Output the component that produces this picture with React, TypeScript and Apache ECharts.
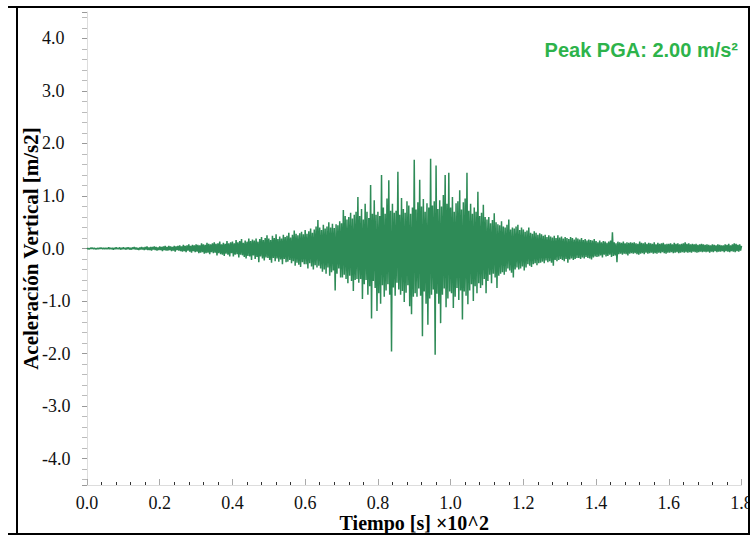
import { useEffect, useRef } from "react";
import * as echarts from "echarts";

// Sampling step of the record, in axis units (×10^2 s)
const DT = 0.0025;

// Vertical acceleration [m/s2]
const accel: number[] = [
  0.01, -0.01, 0.00, -0.01, 0.01, 0.00, 0.01, -0.01, 0.01, -0.01, 0.00, -0.01, 0.01, -0.01, 0.01, 0.00, 0.01, -0.01, 0.01, -0.01,
  0.01, -0.01, 0.01, -0.01, 0.02, -0.01, 0.01, -0.01, 0.01, -0.02, 0.01, -0.01, 0.02, -0.01, 0.01, -0.01, 0.02, -0.02, 0.01, -0.01,
  0.02, -0.01, 0.01, -0.02, 0.02, -0.01, 0.02, -0.02, 0.01, -0.02, 0.02, -0.01, 0.03, -0.02, 0.02, -0.02, 0.01, -0.03, 0.02, -0.02,
  0.03, -0.02, 0.02, -0.03, 0.03, -0.02, 0.04, -0.03, 0.02, -0.03, 0.03, -0.04, 0.03, -0.02, 0.04, -0.03, 0.03, -0.04, 0.02, -0.03,
  0.04, -0.03, 0.03, -0.05, 0.04, -0.03, 0.05, -0.04, 0.03, -0.04, 0.05, -0.03, 0.04, -0.05, 0.03, -0.04, 0.05, -0.06, 0.04, -0.03,
  0.05, -0.04, 0.06, -0.05, 0.04, -0.06, 0.07, -0.05, 0.05, -0.07, 0.06, -0.04, 0.08, -0.06, 0.05, -0.08, 0.07, -0.05, 0.06, -0.07,
  0.08, -0.06, 0.07, -0.09, 0.06, -0.08, 0.10, -0.07, 0.08, -0.10, 0.07, -0.09, 0.11, -0.08, 0.09, -0.11, 0.08, -0.07, 0.10, -0.09,
  0.12, -0.08, 0.09, -0.13, 0.10, -0.09, 0.13, -0.11, 0.08, -0.12, 0.11, -0.14, 0.09, -0.10, 0.14, -0.12, 0.10, -0.15, 0.12, -0.09,
  0.13, -0.15, 0.10, -0.12, 0.16, -0.11, 0.12, -0.17, 0.14, -0.12, 0.18, -0.13, 0.11, -0.16, 0.15, -0.19, 0.13, -0.14, 0.19, -0.15,
  0.14, -0.22, 0.17, -0.13, 0.15, -0.20, 0.19, -0.16, 0.13, -0.26, 0.18, -0.15, 0.22, -0.19, 0.16, -0.23, 0.20, -0.17, 0.25, -0.18,
  0.19, -0.22, 0.16, -0.27, 0.24, -0.18, 0.20, -0.24, 0.27, -0.19, 0.18, -0.25, 0.23, -0.21, 0.19, -0.30, 0.26, -0.20, 0.22, -0.26,
  0.24, -0.25, 0.30, -0.22, 0.21, -0.28, 0.26, -0.24, 0.34, -0.33, 0.28, -0.27, 0.25, -0.31, 0.29, -0.35, 0.32, -0.26, 0.27, -0.30,
  0.35, -0.30, 0.28, -0.38, 0.33, -0.28, 0.38, -0.34, 0.30, -0.40, 0.36, -0.32, 0.42, -0.36, 0.54, -0.33, 0.40, -0.38, 0.35, -0.44,
  0.45, -0.40, 0.38, -0.48, 0.42, -0.36, 0.50, -0.52, 0.40, -0.45, 0.47, -0.42, 0.39, -0.80, 0.46, -0.48, 0.44, -0.38, 0.52, -0.55,
  0.48, -0.55, 0.73, -0.50, 0.62, -0.58, 0.55, -0.66, 0.60, -0.52, 0.68, -0.62, 0.57, -0.81, 0.64, -0.60, 0.70, -0.58, 0.98, -0.65,
  0.62, -0.58, 0.75, -0.96, 0.55, -0.68, 0.85, -0.60, 0.70, -0.88, 0.58, -0.72, 1.21, -1.33, 0.66, -0.62, 0.92, -0.75, 0.64, -1.19,
  0.70, -0.85, 0.62, -1.05, 1.40, -0.70, 0.78, -0.92, 0.66, -0.80, 0.95, -0.68, 1.30, -0.88, 0.72, -1.96, 0.85, -0.74, 0.68, -0.90,
  0.72, -0.65, 1.46, -0.78, 0.64, -0.88, 0.96, -0.81, 0.75, -1.02, 0.68, -0.84, 0.90, -0.70, 0.82, -1.10, 0.66, -1.25, 0.78, -0.92,
  1.69, -0.85, 0.74, -0.92, 0.88, -0.76, 1.31, -0.90, 0.80, -1.67, 0.94, -0.82, 0.70, -1.05, 0.86, -1.45, 0.78, -0.95, 1.71, -0.88,
  0.82, -0.78, 0.90, -2.02, 1.58, -0.86, 0.75, -1.05, 0.92, -1.42, 0.80, -0.88, 1.02, -0.76, 1.40, -1.12, 0.85, -0.95, 1.44, -0.82,
  0.78, -0.85, 0.98, -1.13, 0.70, -0.92, 0.86, -0.75, 0.90, -0.98, 1.11, -0.80, 0.74, -1.35, 0.88, -0.82, 0.95, -0.90, 1.44, -1.06,
  0.72, -0.80, 0.85, -0.68, 0.66, -1.00, 0.78, -0.72, 0.70, -0.85, 1.08, -0.66, 0.62, -0.75, 0.68, -0.70, 0.83, -0.58, 0.60, -0.85,
  0.55, -0.62, 0.60, -0.50, 0.48, -0.66, 0.54, -0.48, 0.67, -0.55, 0.50, -0.75, 0.46, -0.52, 0.44, -0.48, 0.52, -0.45, 0.42, -0.50,
  0.40, -0.44, 0.45, -0.38, 0.55, -0.42, 0.36, -0.46, 0.40, -0.55, 0.38, -0.40, 0.42, -0.36, 0.45, -0.40, 0.35, -0.38, 0.40, -0.34,
  0.36, -0.42, 0.32, -0.36, 0.34, -0.30, 0.40, -0.33, 0.30, -0.35, 0.28, -0.30, 0.33, -0.28, 0.30, -0.32, 0.26, -0.28, 0.29, -0.27,
  0.27, -0.25, 0.24, -0.28, 0.26, -0.23, 0.22, -0.26, 0.25, -0.24, 0.23, -0.27, 0.21, -0.33, 0.24, -0.22, 0.20, -0.24, 0.25, -0.22,
  0.21, -0.20, 0.23, -0.22, 0.19, -0.24, 0.22, -0.20, 0.20, -0.27, 0.18, -0.21, 0.22, -0.19, 0.20, -0.22, 0.17, -0.20, 0.21, -0.18,
  0.19, -0.18, 0.17, -0.20, 0.20, -0.17, 0.16, -0.19, 0.18, -0.16, 0.15, -0.18, 0.17, -0.19, 0.16, -0.21, 0.15, -0.17, 0.18, -0.15,
  0.14, -0.16, 0.12, -0.15, 0.15, -0.13, 0.12, -0.17, 0.14, -0.12, 0.13, -0.15, 0.11, -0.14, 0.13, -0.12, 0.15, -0.16, 0.31, -0.14,
  0.12, -0.13, 0.10, -0.26, 0.13, -0.11, 0.12, -0.10, 0.11, -0.12, 0.13, -0.10, 0.10, -0.11, 0.12, -0.13, 0.11, -0.10, 0.12, -0.09,
  0.11, -0.10, 0.12, -0.09, 0.10, -0.11, 0.09, -0.12, 0.13, -0.10, 0.11, -0.09, 0.10, -0.11, 0.12, -0.08, 0.09, -0.10, 0.11, -0.09,
  0.10, -0.08, 0.09, -0.10, 0.12, -0.09, 0.08, -0.10, 0.11, -0.08, 0.09, -0.09, 0.10, -0.07, 0.11, -0.09, 0.08, -0.10, 0.09, -0.08,
  0.09, -0.08, 0.10, -0.07, 0.08, -0.09, 0.11, -0.08, 0.09, -0.07, 0.10, -0.09, 0.08, -0.08, 0.09, -0.07, 0.10, -0.08, 0.12, -0.07,
  0.09, -0.08, 0.10, -0.07, 0.08, -0.08, 0.09, -0.06, 0.08, -0.07, 0.09, -0.08, 0.07, -0.07, 0.08, -0.06, 0.09, -0.07, 0.08, -0.06,
  0.07, -0.07, 0.08, -0.06, 0.07, -0.08, 0.06, -0.06, 0.08, -0.07, 0.07, -0.05, 0.06, -0.07, 0.08, -0.06, 0.07, -0.06, 0.06, -0.05,
  0.06, -0.07, 0.08, -0.05, 0.07, -0.06, 0.09, -0.07, 0.06, -0.05, 0.08, -0.06, 0.10, -0.07, 0.09, -0.05, 0.07, -0.06, 0.08, -0.04,
  0.05,
];

const X_MIN = 0;
const X_MAX = 1.8;
const X_STEP = 0.2;
const Y_MIN = -4.5;
const Y_MAX = 4.5;
const Y_SPLITS = 9;

const TITLE = "Peak PGA: 2.00 m/s²";
const X_NAME = "Tiempo [s] ×10^2";
const Y_NAME = "Aceleración Vertical [m/s2]";

export default function App() {
  const ref = useRef<HTMLDivElement>(null);

  useEffect(() => {
    if (!ref.current) return;
    const chart = echarts.init(ref.current, undefined, { renderer: "svg" });
    const data = accel.map((v, i) => [i * DT, v]);
    const serif = "'Liberation Serif', 'Times New Roman', serif";
    chart.setOption({
      animation: false,
      backgroundColor: "#ffffff",
      grid: {
        left: 87,
        right: 11.5,
        top: 12,
        bottom: 51,
        containLabel: false,
        outerBoundsMode: "none",
      },
      title: {
        text: TITLE,
        right: 10,
        top: 35,
        textStyle: {
          color: "#2db34b",
          fontFamily: "'Liberation Sans', Arial, sans-serif",
          fontWeight: "bold",
          fontSize: 20,
        },
      },
      xAxis: {
        type: "value",
        min: X_MIN,
        max: X_MAX,
        interval: X_STEP,
        name: X_NAME,
        nameLocation: "middle",
        nameGap: 28,
        nameMoveOverlap: false,
        nameTextStyle: { fontFamily: serif, fontWeight: "bold", fontSize: 20, color: "#000", lineHeight: 20 },
        axisLine: { show: true, onZero: false, lineStyle: { color: "#dddddd", width: 1 } },
        axisTick: { show: true, inside: true, length: 6, lineStyle: { color: "#aaaaaa" } },
        minorTick: { show: true, splitNumber: 5, length: 3, lineStyle: { color: "#333333" } },
        splitLine: { show: false },
        minorSplitLine: { show: false },
        axisLabel: {
          formatter: (v: number) => v.toFixed(1),
          fontFamily: serif,
          fontSize: 18,
          lineHeight: 18,
          color: "#111",
          margin: 9,
        },
      },
      yAxis: {
        type: "value",
        min: Y_MIN,
        max: Y_MAX,
        splitNumber: Y_SPLITS,
        name: Y_NAME,
        nameLocation: "middle",
        nameGap: 46,
        nameMoveOverlap: false,
        nameTextStyle: { fontFamily: serif, fontWeight: "bold", fontSize: 21, color: "#000" },
        axisLine: { show: true, onZero: false, lineStyle: { color: "#dddddd", width: 1 } },
        axisTick: { show: true, inside: false, length: 5, lineStyle: { color: "#999999" } },
        minorTick: { show: true, splitNumber: 5, length: 5, lineStyle: { color: "#bbbbbb" } },
        splitLine: { show: false },
        minorSplitLine: { show: false },
        axisLabel: {
          formatter: (v: number) => v.toFixed(1),
          fontFamily: serif,
          fontSize: 18,
          color: "#111",
          margin: 45,
          align: "left",
          padding: [4, 0, 0, 0],
          showMinLabel: false,
          showMaxLabel: false,
        },
      },
      series: [
        {
          type: "line",
          data,
          symbol: "none",
          showSymbol: false,
          lineStyle: { color: "#2e8b57", width: 1.5 },
          itemStyle: { color: "#2e8b57" },
        },
      ],
      graphic: [
        { type: "rect", z: 100, shape: { x: 750, y: 0, width: 10, height: 536 }, style: { fill: "#ffffff" } },
        { type: "line", z: 101, shape: { x1: 8, y1: 7, x2: 750, y2: 7 }, style: { stroke: "#000", lineWidth: 2 } },
        { type: "line", z: 101, shape: { x1: 17, y1: 7, x2: 17, y2: 535 }, style: { stroke: "#000", lineWidth: 2 } },
        { type: "line", z: 101, shape: { x1: 8, y1: 534, x2: 750, y2: 534 }, style: { stroke: "#000", lineWidth: 2 } },
        { type: "line", z: 101, shape: { x1: 749, y1: 7, x2: 749, y2: 535 }, style: { stroke: "#000", lineWidth: 2 } },
      ],
    });
    return () => chart.dispose();
  }, []);

  return (
    <div
      ref={ref}
      style={{ position: "fixed", left: 0, top: 0, width: 753, height: 536 }}
    />
  );
}
